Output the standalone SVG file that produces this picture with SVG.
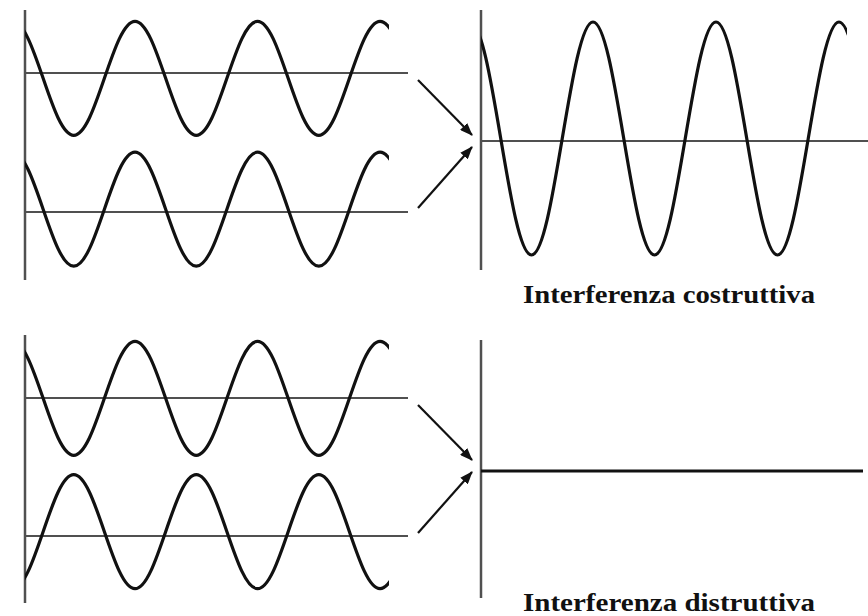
<svg xmlns="http://www.w3.org/2000/svg" xmlns:xlink="http://www.w3.org/1999/xlink" width="868" height="616" viewBox="0 0 868 616">
<style>
.axis{stroke:#505050;stroke-width:2.5;fill:none}
.base{stroke:#505050;stroke-width:2;fill:none}
.wave{stroke:#111;stroke-width:3.2;fill:none;stroke-linecap:round}
.flat{stroke:#111;stroke-width:3;fill:none}
.arrow{stroke:#111;stroke-width:2.2;fill:none;marker-end:url(#ah)}
.lbl{font-family:"Liberation Serif","Times New Roman",serif;font-weight:bold;font-size:25px;fill:#111}
</style>
<defs>
<marker id="ah" markerWidth="14" markerHeight="10" refX="12" refY="5" orient="auto" markerUnits="userSpaceOnUse">
<path d="M0,0 L13,5 L0,10 Z" fill="#111"/>
</marker>
<clipPath id="cl"><rect x="25" y="0" width="364" height="616"/></clipPath>
<clipPath id="cr"><rect x="481" y="0" width="366" height="616"/></clipPath>
<path id="w" d="M0,0 c11.08,0 20.64,27.8 30.63,57 c9.99,29.2 19.54,57 30.63,57 c11.08,0 20.64,-27.8 30.63,-57 c9.99,-29.2 19.54,-57 30.63,-57 c11.08,0 20.64,27.8 30.63,57 c9.99,29.2 19.54,57 30.63,57 c11.08,0 20.64,-27.8 30.63,-57 c9.99,-29.2 19.54,-57 30.63,-57 c11.08,0 20.64,27.8 30.63,57 c9.99,29.2 19.54,57 30.63,57 c11.08,0 20.64,-27.8 30.63,-57 c9.99,-29.2 19.54,-57 30.63,-57 c11.08,0 20.64,27.8 30.63,57 c9.99,29.2 19.54,57 30.63,57 c11.08,0 20.64,-27.8 30.63,-57 c9.99,-29.2 19.54,-57 30.63,-57"/>
</defs>
<rect width="868" height="616" fill="#fff"/>

<g id="panel-top-left">
<line class="axis" x1="25" y1="10" x2="25" y2="280"/>
<line class="base" x1="25" y1="73" x2="408" y2="73"/>
<line class="base" x1="25" y1="212" x2="408" y2="212"/>
<g clip-path="url(#cl)">
<use xlink:href="#w" class="wave" transform="translate(12.5,21.3)"/>
<use xlink:href="#w" class="wave" transform="translate(12.5,152.2)"/>
</g>
</g>

<g id="panel-top-right">
<line class="axis" x1="481" y1="10" x2="481" y2="270"/>
<line class="base" x1="481" y1="141" x2="868" y2="141"/>
<g clip-path="url(#cr)">
<path class="wave" d="M470,22 c11.13,0 20.72,56.82 30.75,116.5 c10.03,59.68 19.62,116.5 30.75,116.5 c11.13,0 20.72,-56.82 30.75,-116.5 c10.03,-59.68 19.62,-116.5 30.75,-116.5 c11.13,0 20.72,56.82 30.75,116.5 c10.03,59.68 19.62,116.5 30.75,116.5 c11.13,0 20.72,-56.82 30.75,-116.5 c10.03,-59.68 19.62,-116.5 30.75,-116.5 c11.13,0 20.72,56.82 30.75,116.5 c10.03,59.68 19.62,116.5 30.75,116.5 c11.13,0 20.72,-56.82 30.75,-116.5 c10.03,-59.68 19.62,-116.5 30.75,-116.5 c11.13,0 20.72,56.82 30.75,116.5"/>
</g>
<text class="lbl" x="523" y="303" textLength="292" lengthAdjust="spacingAndGlyphs">Interferenza costruttiva</text>
</g>

<g id="panel-bottom-left">
<line class="axis" x1="25" y1="335" x2="25" y2="603"/>
<line class="base" x1="25" y1="398" x2="408" y2="398"/>
<line class="base" x1="25" y1="536" x2="408" y2="536"/>
<g clip-path="url(#cl)">
<use xlink:href="#w" class="wave" transform="translate(12.5,341.3)"/>
<use xlink:href="#w" class="wave" transform="translate(12.5,588.7) scale(1,-1)"/>
</g>
</g>

<g id="panel-bottom-right">
<line class="axis" x1="481" y1="340" x2="481" y2="598"/>
<line class="flat" x1="481" y1="471" x2="863" y2="471"/>
<text class="lbl" x="523" y="611" textLength="292" lengthAdjust="spacingAndGlyphs">Interferenza distruttiva</text>
</g>

<g id="connectors">
<line class="arrow" x1="418" y1="80" x2="472" y2="135"/>
<line class="arrow" x1="418" y1="208" x2="472" y2="147"/>
<line class="arrow" x1="418" y1="405" x2="472" y2="460"/>
<line class="arrow" x1="418" y1="533" x2="472" y2="472"/>
</g>
</svg>
